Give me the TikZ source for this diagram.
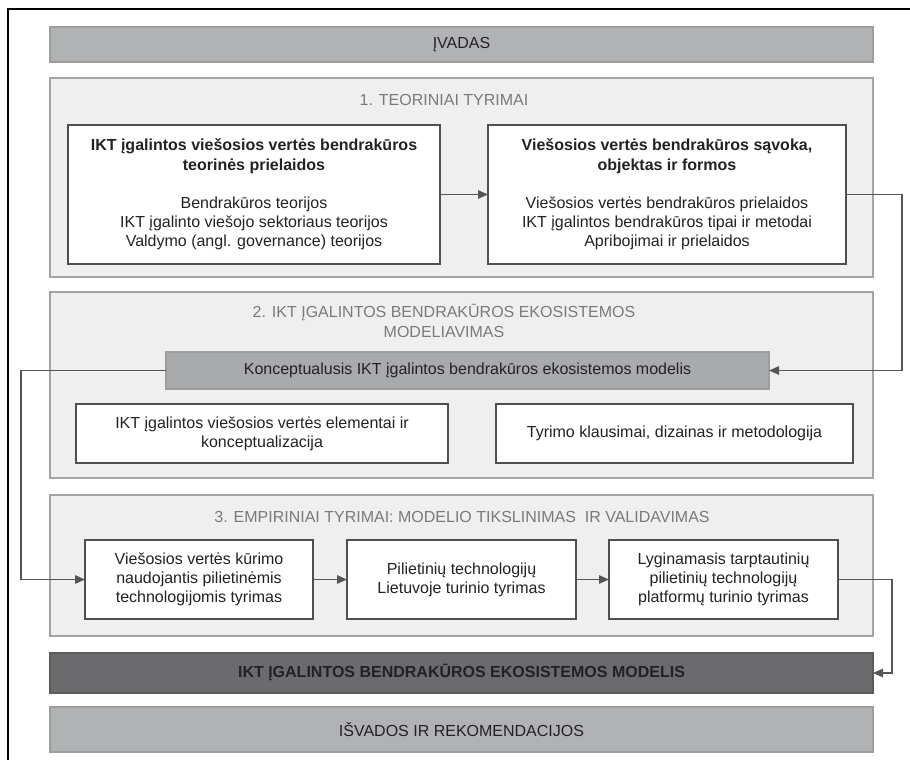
\documentclass[tikz,border=0pt]{standalone}
\usepackage{fontspec}
\setmainfont{Liberation Sans}
\usetikzlibrary{arrows.meta}
\definecolor{bargray}{HTML}{B1B2B4}
\definecolor{barline}{HTML}{9C9D9F}
\definecolor{secfill}{HTML}{EFEFF0}
\definecolor{secline}{HTML}{A3A4A6}
\definecolor{konfill}{HTML}{A9AAAC}
\definecolor{modfill}{HTML}{6B6B6D}
\definecolor{boxline}{HTML}{4F4F51}
\definecolor{titlegray}{HTML}{7A7A7C}
\definecolor{arrgray}{HTML}{555557}
\definecolor{textdark}{HTML}{222224}
\tikzset{
  every node/.style={inner sep=0pt, outer sep=0pt, text=textdark, font=\fontsize{16}{19.2}\selectfont},
  bar/.style={draw=barline, line width=1.4pt, fill=bargray, minimum width=823pt},
  sect/.style={draw=secline, line width=1.4pt, fill=secfill, minimum width=823pt},
  wbox/.style={draw=boxline, line width=1.6pt, fill=white, align=center},
  sectitle/.style={text=titlegray, align=center},
  conn/.style={draw=arrgray, line width=1.3pt, -{Triangle[length=10pt,width=8.5pt]}},
}
\begin{document}
\begin{tikzpicture}[x=1pt,y=-1pt]
\useasboundingbox (0,0) rectangle (910,760);
% page frame (top and left edges)
\coordinate (frameTR) at (910,9);
\coordinate (frameTL) at (8,9);
\coordinate (frameBL) at (8,760);
\draw[line width=2pt, black] (frameTR) -- (frameTL) -- (frameBL);

% bars and sections
\node[bar, minimum height=35pt] (ivadas) at (461.5,44.5) {ĮVADAS};
\node[sect, minimum height=199pt] (s1) at (461.5,177.5) {};
\node[sectitle] (t1) at (444,100) {1. TEORINIAI TYRIMAI};

\node[wbox, minimum width=372pt, minimum height=139pt] (A) at (254,194.5)
  {\textbf{IKT įgalintos viešosios vertės bendrakūros}\\\textbf{teorinės prielaidos}\\[19pt]
   Bendrakūros teorijos\\IKT įgalinto viešojo sektoriaus teorijos\\Valdymo (angl. governance) teorijos};
\node[wbox, minimum width=358pt, minimum height=139pt] (B) at (667,194.5)
  {\textbf{Viešosios vertės bendrakūros sąvoka,}\\\textbf{objektas ir formos}\\[19pt]
   Viešosios vertės bendrakūros prielaidos\\IKT įgalintos bendrakūros tipai ir metodai\\Apribojimai ir prielaidos};

\node[sect, minimum height=186pt] (s2) at (461.5,385) {};
\node[sectitle] (t2) at (444,321) {2. IKT ĮGALINTOS BENDRAKŪROS EKOSISTEMOS\\MODELIAVIMAS};
\node[draw=barline, line width=1.4pt, fill=konfill, minimum width=603pt, minimum height=37pt] (K) at (467.5,370.5)
  {Konceptualusis IKT įgalintos bendrakūros ekosistemos modelis};
\node[wbox, minimum width=372pt, minimum height=59pt] (C) at (262,433.5)
  {IKT įgalintos viešosios vertės elementai ir\\konceptualizacija};
\node[wbox, minimum width=357pt, minimum height=59pt] (D) at (674.5,433.5)
  {Tyrimo klausimai, dizainas ir metodologija};

\node[sect, minimum height=141pt] (s3) at (461.5,565.5) {};
\node[sectitle] (t3) at (462,517) {3. EMPIRINIAI TYRIMAI: MODELIO TIKSLINIMAS~ IR VALIDAVIMAS};
\node[wbox, minimum width=228pt, minimum height=79pt] (E) at (199,579.5)
  {Viešosios vertės kūrimo\\naudojantis pilietinėmis\\technologijomis tyrimas};
\node[wbox, minimum width=229pt, minimum height=79pt] (F) at (461.5,579.5)
  {Pilietinių technologijų\\Lietuvoje turinio tyrimas};
\node[wbox, minimum width=229pt, minimum height=79pt] (G) at (723.5,579.5)
  {Lyginamasis tarptautinių\\pilietinių technologijų\\platformų turinio tyrimas};

\node[draw=modfill!85!black, line width=1.4pt, fill=modfill, minimum width=823pt, minimum height=40pt] (M) at (461.5,673)
  {\textbf{IKT ĮGALINTOS BENDRAKŪROS EKOSISTEMOS MODELIS}};
\node[bar, minimum height=45pt] (isv) at (461.5,729.5) {IŠVADOS IR REKOMENDACIJOS};

% connectors
\draw[conn] (A.east) -- (B.west);
\draw[conn] (B.east) -- ++(56,0) |- (K.east);
\draw[conn] (K.west) -- ++(-145,0) |- (E.west);
\draw[conn] (E.east) -- (F.west);
\draw[conn] (F.east) -- (G.west);
\draw[conn] (G.east) -- ++(54,0) |- (M.east);
\end{tikzpicture}
\end{document}
